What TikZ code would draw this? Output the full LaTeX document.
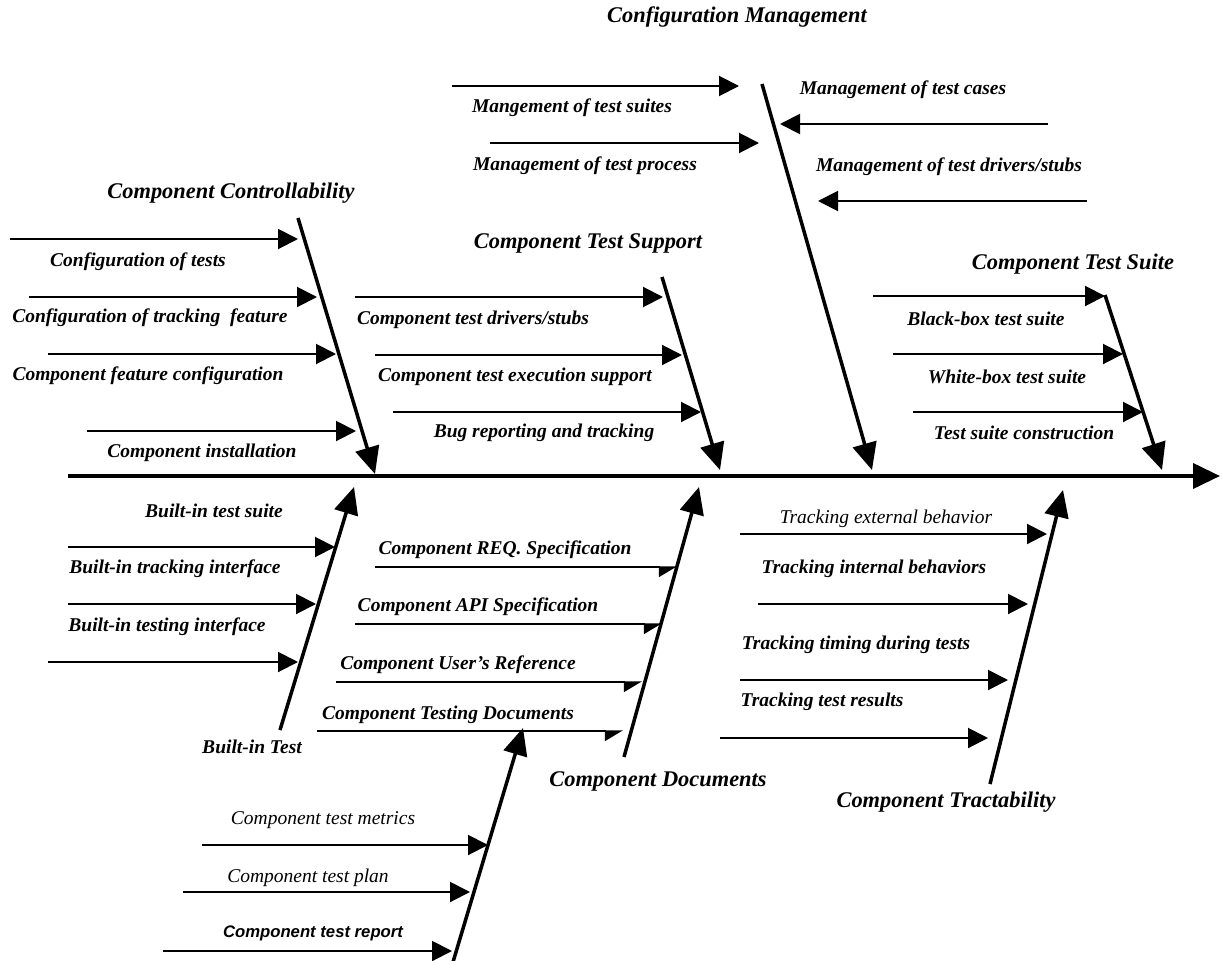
\documentclass[tikz,border=0pt]{standalone}
\usepackage{fontspec}
\setmainfont{Liberation Serif}
\newfontfamily\arialfont{Liberation Sans}
\usetikzlibrary{arrows.meta}
\begin{document}
\begin{tikzpicture}[x=1pt,y=-1pt,
 spine/.style={line width=4pt,-{Triangle[length=27pt,width=25pt]}},
 bone/.style={line width=3.5pt,-{Triangle[length=27pt,width=24pt]}},
 rib/.style={line width=2pt,-{Triangle[length=20pt,width=20pt]}},
 thinrib/.style={line width=1.3pt,-{Triangle[harpoon,swap,length=17pt,width=20pt]}},
 lab/.style={inner sep=0pt,font=\fontsize{19.5}{22}\selectfont\bfseries\itshape},
 plab/.style={inner sep=0pt,font=\fontsize{19.5}{22}\selectfont\itshape},
 slab/.style={inner sep=0pt,font=\fontsize{16.7}{20}\selectfont\arialfont\bfseries\itshape},
 ttl/.style={inner sep=0pt,font=\fontsize{22.4}{26}\selectfont\bfseries\itshape},
]
\useasboundingbox[fill=white] (0,0) rectangle (1222,960);

% spine
\coordinate (sp0) at (68,476);
\coordinate (sp1) at (1220,476);
\draw[spine] (sp0) -- (sp1);

% ---------- Component Controllability ----------
\node[ttl] (cct) at (231,193) {Component Controllability};
\coordinate (cc0) at (298,218);
\coordinate (cc1) at (375,474);
\draw[bone] (cc0) -- (cc1);
\coordinate (cca0) at (10,239);  \coordinate (cca1) at (298,239);
\coordinate (ccb0) at (29,297);  \coordinate (ccb1) at (317,297);
\coordinate (ccc0) at (48,354);  \coordinate (ccc1) at (336,354);
\coordinate (ccd0) at (87,431);  \coordinate (ccd1) at (356,431);
\draw[rib] (cca0) -- (cca1);
\draw[rib] (ccb0) -- (ccb1);
\draw[rib] (ccc0) -- (ccc1);
\draw[rib] (ccd0) -- (ccd1);
\node[lab] (ccla) at (138,262) {Configuration of tests};
\node[lab] (cclb) at (150,318) {Configuration of tracking\ \ feature};
\node[lab] (cclc) at (148,376) {Component feature configuration};
\node[lab] (ccld) at (202,453) {Component installation};

% ---------- Component Test Support ----------
\node[ttl] (tst) at (588,243) {Component Test Support};
\coordinate (ts0) at (662,277);
\coordinate (ts1) at (720,470);
\draw[bone] (ts0) -- (ts1);
\coordinate (tsa0) at (355,297); \coordinate (tsa1) at (663,297);
\coordinate (tsb0) at (375,355); \coordinate (tsb1) at (682,355);
\coordinate (tsc0) at (393,412); \coordinate (tsc1) at (701,412);
\draw[rib] (tsa0) -- (tsa1);
\draw[rib] (tsb0) -- (tsb1);
\draw[rib] (tsc0) -- (tsc1);
\node[lab] (tsla) at (473,320) {Component test drivers/stubs};
\node[lab] (tslb) at (515,377) {Component test execution support};
\node[lab] (tslc) at (544,433) {Bug reporting and tracking};

% ---------- Configuration Management ----------
\node[ttl] (cmt) at (737,17) {Configuration Management};
\coordinate (cm0) at (762,84);
\coordinate (cm1) at (872,470);
\draw[bone] (cm0) -- (cm1);
\coordinate (cma0) at (452,86);  \coordinate (cma1) at (739,86);
\coordinate (cmb0) at (490,143); \coordinate (cmb1) at (759,143);
\coordinate (cmc0) at (1048,124); \coordinate (cmc1) at (780,124);
\coordinate (cmd0) at (1087,201); \coordinate (cmd1) at (818,201);
\draw[rib] (cma0) -- (cma1);
\draw[rib] (cmb0) -- (cmb1);
\draw[rib] (cmc0) -- (cmc1);
\draw[rib] (cmd0) -- (cmd1);
\node[lab] (cmla) at (572,108) {Mangement of test suites};
\node[lab] (cmlb) at (585,166) {Management of test process};
\node[lab] (cmlc) at (903,90) {Management of test cases};
\node[lab] (cmld) at (949,167) {Management of test drivers/stubs};

% ---------- Component Test Suite ----------
\node[ttl] (sut) at (1073,264) {Component Test Suite};
\coordinate (su0) at (1105,295);
\coordinate (su1) at (1162,470);
\draw[bone] (su0) -- (su1);
\coordinate (sua0) at (873,296); \coordinate (sua1) at (1105,296);
\coordinate (sub0) at (893,354); \coordinate (sub1) at (1123,354);
\coordinate (suc0) at (913,412); \coordinate (suc1) at (1143,412);
\draw[rib] (sua0) -- (sua1);
\draw[rib] (sub0) -- (sub1);
\draw[rib] (suc0) -- (suc1);
\node[lab] (sula) at (986,319) {Black-box test suite};
\node[lab] (sulb) at (1007,377) {White-box test suite};
\node[lab] (sulc) at (1024,433) {Test suite construction};

% ---------- Built-in Test ----------
\node[lab] (bit) at (252,747) {Built-in Test};
\coordinate (bi0) at (280,730);
\coordinate (bi1) at (354,487);
\draw[bone] (bi0) -- (bi1);
\coordinate (bia0) at (68,547);  \coordinate (bia1) at (335,547);
\coordinate (bib0) at (68,604);  \coordinate (bib1) at (316,604);
\coordinate (bic0) at (48,662);  \coordinate (bic1) at (298,662);
\draw[rib] (bia0) -- (bia1);
\draw[rib] (bib0) -- (bib1);
\draw[rib] (bic0) -- (bic1);
\node[lab] (bila) at (214,511) {Built-in test suite};
\node[lab] (bilb) at (175,569) {Built-in tracking interface};
\node[lab] (bilc) at (167,627) {Built-in testing interface};

% ---------- Component Documents ----------
\node[ttl] (dot) at (658,781) {Component Documents};
\coordinate (do0) at (624,757);
\coordinate (do1) at (699,487);
\draw[bone] (do0) -- (do1);
\coordinate (doa0) at (375,567); \coordinate (doa1) at (677,567);
\coordinate (dob0) at (355,624); \coordinate (dob1) at (662,624);
\coordinate (doc0) at (336,682); \coordinate (doc1) at (642,682);
\coordinate (dod0) at (317,731); \coordinate (dod1) at (623,731);
\draw[thinrib] (doa0) -- (doa1);
\draw[thinrib] (dob0) -- (dob1);
\draw[thinrib] (doc0) -- (doc1);
\draw[thinrib] (dod0) -- (dod1);
\node[lab] (dola) at (505,550) {Component REQ. Specification};
\node[lab] (dolb) at (478,607) {Component API Specification};
\node[lab] (dolc) at (458,665) {Component User’s Reference};
\node[lab] (dold) at (448,715) {Component Testing Documents};

% ---------- Component Tractability ----------
\node[ttl] (trt) at (946,802) {Component Tractability};
\coordinate (tr0) at (990,784);
\coordinate (tr1) at (1063,490);
\draw[bone] (tr0) -- (tr1);
\coordinate (tra0) at (740,534); \coordinate (tra1) at (1047,534);
\coordinate (trb0) at (758,604); \coordinate (trb1) at (1028,604);
\coordinate (trc0) at (740,680); \coordinate (trc1) at (1008,680);
\coordinate (trd0) at (720,738); \coordinate (trd1) at (988,738);
\draw[rib] (tra0) -- (tra1);
\draw[rib] (trb0) -- (trb1);
\draw[rib] (trc0) -- (trc1);
\draw[rib] (trd0) -- (trd1);
\node[plab] (trla) at (886,519) {Tracking external behavior};
\node[lab] (trlb) at (874,569) {Tracking internal behaviors};
\node[lab] (trlc) at (856,645) {Tracking timing during tests};
\node[lab] (trld) at (822,702) {Tracking test results};

% ---------- Component test (bottom) ----------
\coordinate (te0) at (453,962);
\coordinate (te1) at (523,728);
\draw[bone] (te0) -- (te1);
\coordinate (tea0) at (202,845); \coordinate (tea1) at (488,845);
\coordinate (teb0) at (183,892); \coordinate (teb1) at (470,892);
\coordinate (tec0) at (163,951); \coordinate (tec1) at (452,951);
\draw[rib] (tea0) -- (tea1);
\draw[rib] (teb0) -- (teb1);
\draw[rib] (tec0) -- (tec1);
\node[plab] (tela) at (323,820) {Component test metrics};
\node[plab] (telb) at (308,878) {Component test plan};
\node[slab] (telc) at (313,933) {Component test report};
\end{tikzpicture}
\end{document}
